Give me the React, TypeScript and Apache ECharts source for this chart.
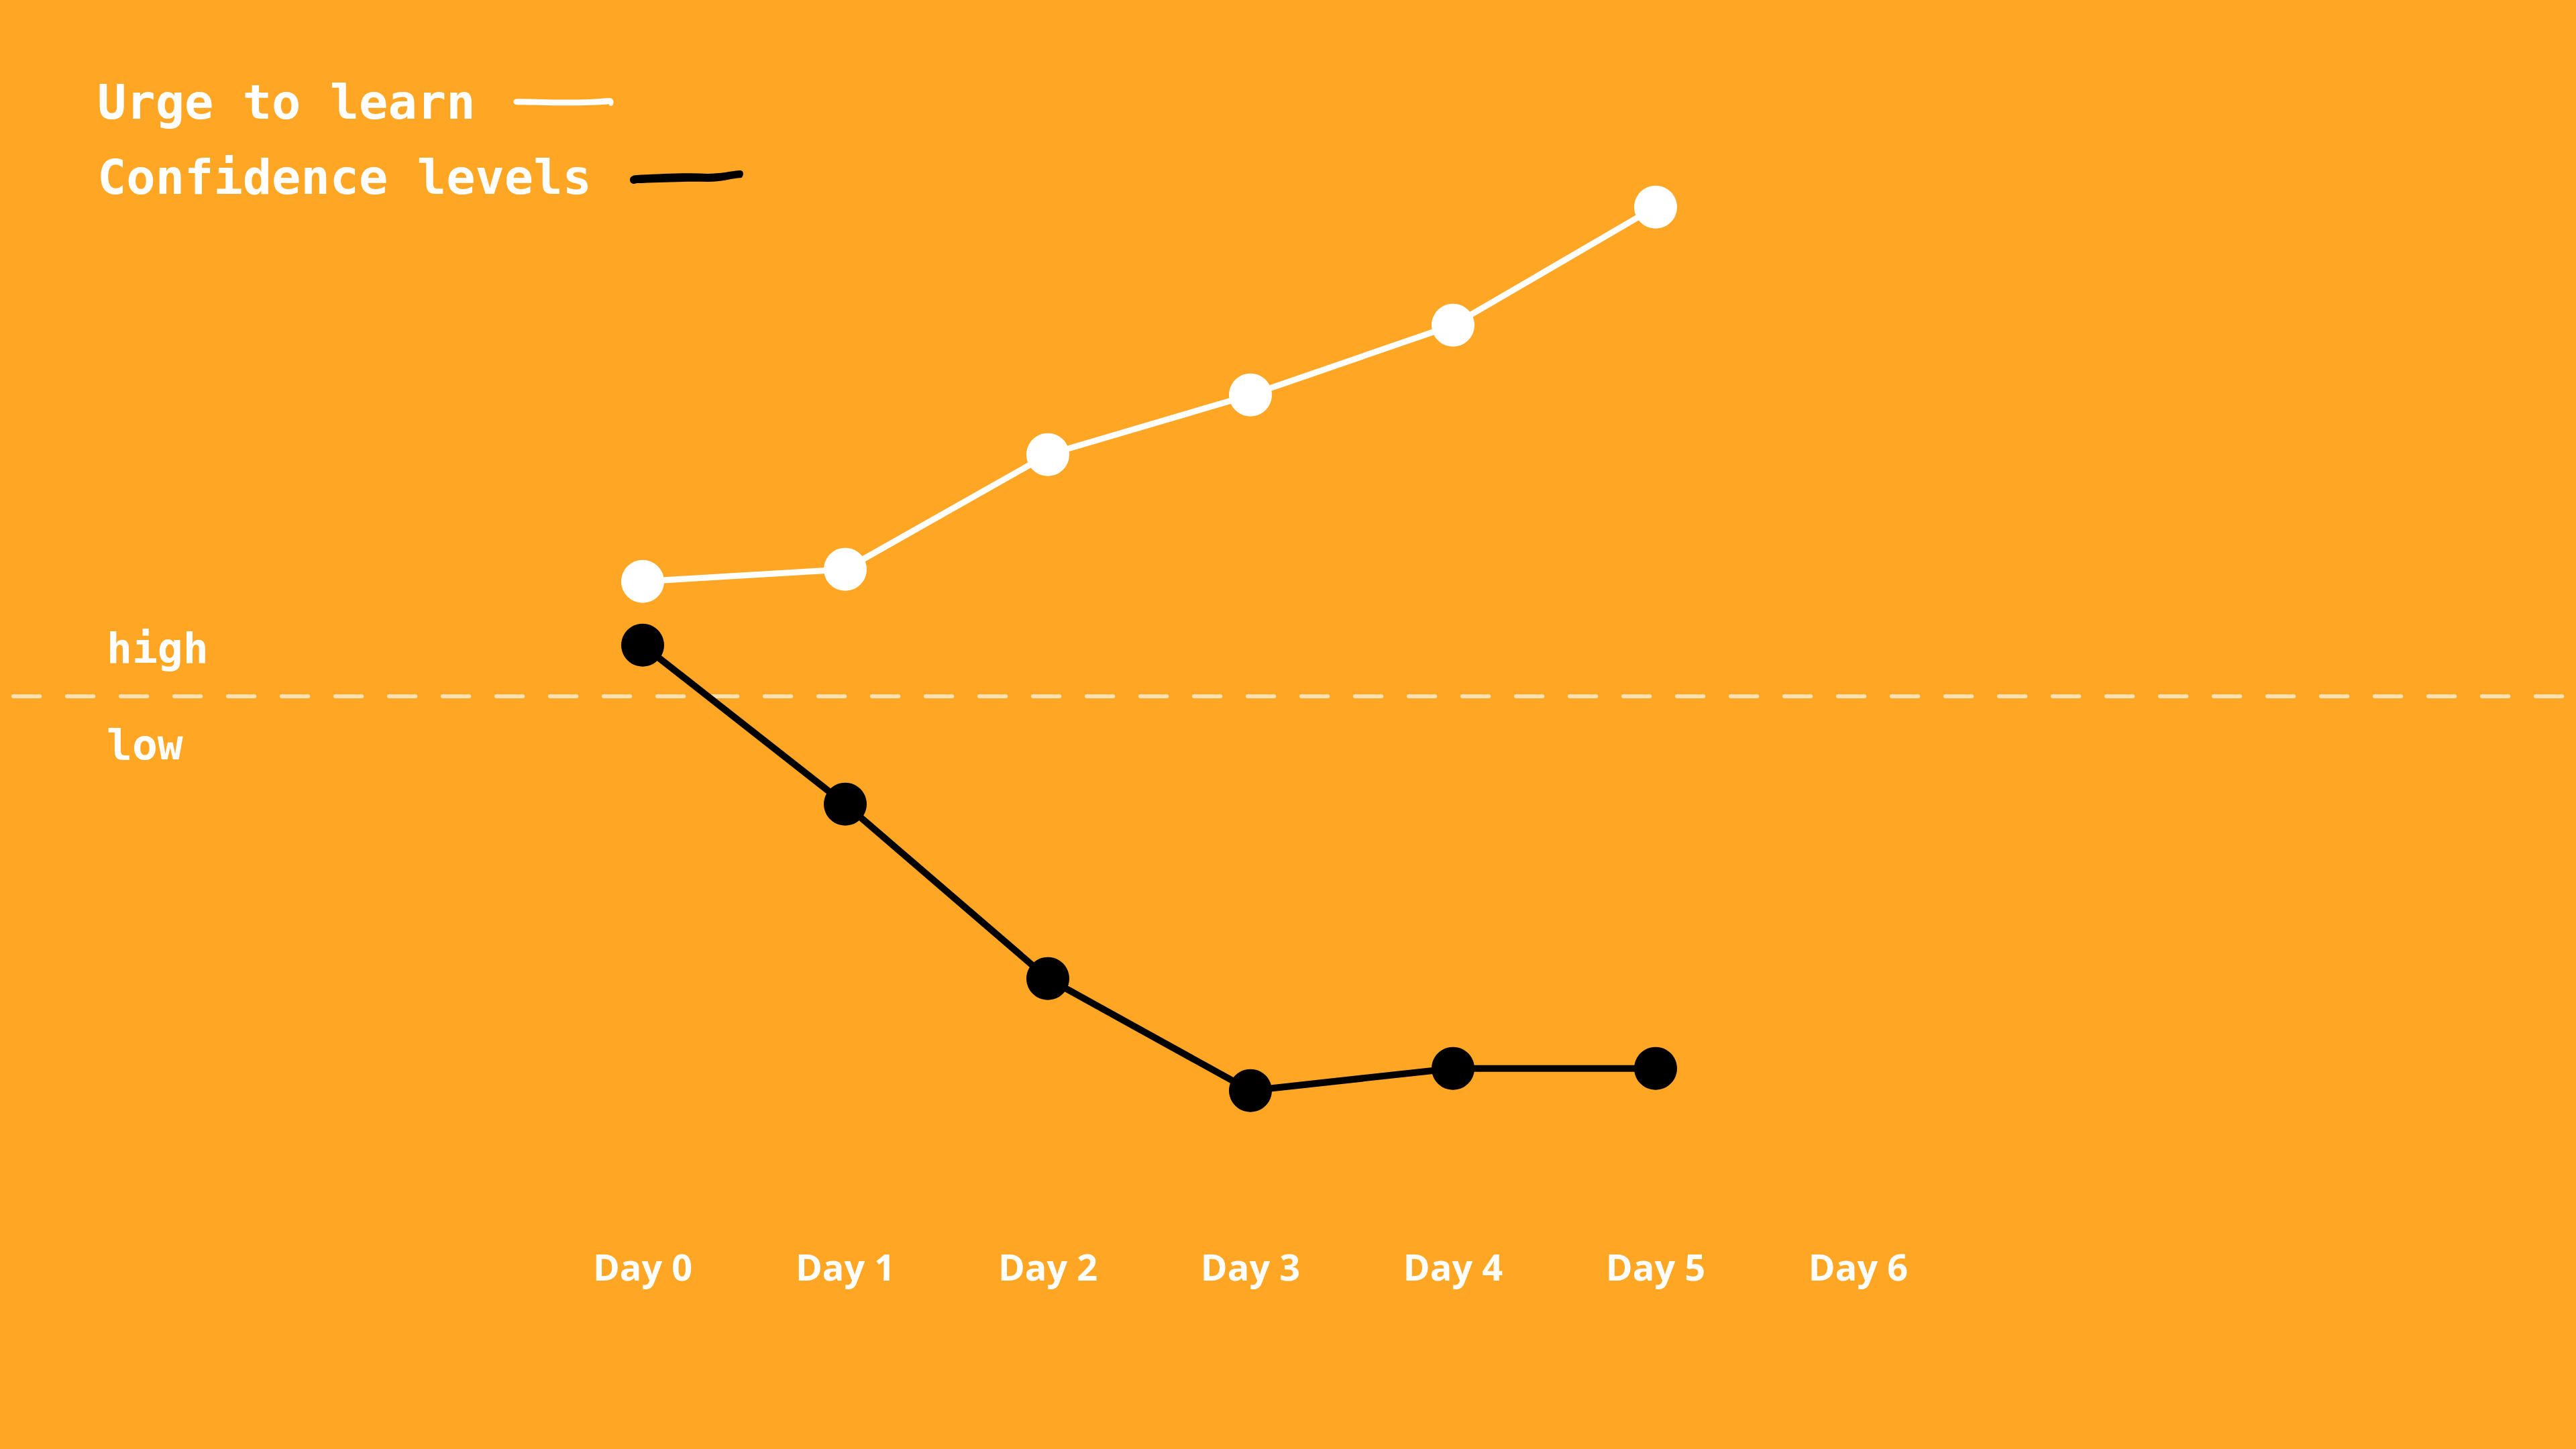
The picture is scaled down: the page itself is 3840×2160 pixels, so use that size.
import React, { useEffect, useRef } from "react";
import * as echarts from "echarts";

// Day ticks along the bottom
const days = ["Day 0", "Day 1", "Day 2", "Day 3", "Day 4", "Day 5", "Day 6"];
// Levels relative to the high/low threshold (0 = dashed line)
const urgeToLearn = [1.71, 1.89, 3.6, 4.49, 5.53, 7.29];
const confidenceLevels = [0.76, -1.61, -4.21, -5.88, -5.55, -5.55];
const seriesNames = ["Urge to learn", "Confidence levels"];
const levelLabels = ["high", "low"];

const ORANGE = "#FFA724";
const MONO = '"DejaVu Sans Mono", monospace';

// Hand-drawn strokes used as legend markers
const whiteStroke =
  "path://M0 7C0 3 4 2.5 8 2.5C40 3 90 6 138 1.5L143 1.5C148 2 149 6 148 10C147 14 142 14 142 11L142 10.5C100 14 40 12 8 11.5C3 11.5 0 10 0 7Z";
const blackStroke =
  "path://M0 16C0 12 4 9 10 9C40 8 80 5 115 7C135 7 150 3 163 2C168 2 169 9 165 13C150 14 135 19 115 19C80 18 40 20 10 21C4 24 0 20 0 16Z";

const legendText = (padBottom: number) => ({
  color: "#ffffff",
  fontFamily: MONO,
  fontWeight: "bold",
  fontSize: 72,
  lineHeight: 80,
  padding: [0, 52, padBottom, 0],
});

export default function App() {
  const ref = useRef<HTMLDivElement>(null);

  useEffect(() => {
    if (!ref.current) return;
    const chart = echarts.init(ref.current, null, { renderer: "svg" });

    chart.setOption({
      animation: false,
      backgroundColor: ORANGE,
      grid: { left: 20, right: 20, top: 237.7, bottom: 322.3, containLabel: false },
      legend: [
        {
          data: [{ name: seriesNames[0], icon: whiteStroke }],
          left: 145,
          top: 107,
          align: "right",
          padding: 0,
          itemWidth: 149,
          itemHeight: 13,
          selectedMode: false,
          itemStyle: { borderWidth: 0 },
          textStyle: legendText(10),
        },
        {
          data: [{ name: seriesNames[1], icon: blackStroke }],
          left: 145,
          top: 217,
          align: "right",
          padding: 0,
          itemWidth: 169,
          itemHeight: 22,
          selectedMode: false,
          itemStyle: { borderWidth: 0 },
          textStyle: legendText(14),
        },
      ],
      xAxis: {
        type: "value",
        min: -3.106,
        max: 9.477,
        axisLine: { show: false },
        axisTick: { show: false },
        splitLine: { show: false },
        axisLabel: {
          customValues: days.map((_, i) => i),
          formatter: (v: number) => days[v] ?? "",
          color: "#ffffff",
          fontFamily: '"Open Sans", sans-serif',
          fontWeight: "bold",
          fontSize: 54,
          margin: 23,
        },
      },
      yAxis: {
        type: "value",
        min: -8,
        max: 8,
        show: false,
      },
      graphic: [
        {
          type: "text",
          left: 159,
          top: 972 - 37,
          silent: true,
          style: {
            text: levelLabels[0],
            fill: "#ffffff",
            font: `bold 63px ${MONO}`,
          },
        },
        {
          type: "text",
          left: 159,
          top: 1116 - 37,
          silent: true,
          style: {
            text: levelLabels[1],
            fill: "#ffffff",
            font: `bold 63px ${MONO}`,
          },
        },
      ],
      series: [
        {
          name: seriesNames[0],
          type: "line",
          data: urgeToLearn.map((v, i) => [i, v]),
          symbol: "circle",
          symbolSize: 64,
          silent: true,
          itemStyle: { color: "#ffffff" },
          lineStyle: { color: "#ffffff", width: 9 },
          emphasis: { disabled: true },
          markLine: {
            silent: true,
            z: 1,
            symbol: ["none", "none"],
            label: { show: false },
            lineStyle: {
              color: "rgba(255,255,255,0.65)",
              width: 6,
              type: [39.3, 40.7],
              cap: "round",
            },
            emphasis: { disabled: true },
            data: [{ yAxis: 0 }],
          },
        },
        {
          name: seriesNames[1],
          type: "line",
          data: confidenceLevels.map((v, i) => [i, v]),
          symbol: "circle",
          symbolSize: 64,
          silent: true,
          itemStyle: { color: "#000000" },
          lineStyle: { color: "#000000", width: 10 },
          emphasis: { disabled: true },
        },
      ],
    });

    return () => chart.dispose();
  }, []);

  return (
    <div
      ref={ref}
      style={{ position: "fixed", left: 0, top: 0, width: 3840, height: 2160 }}
    />
  );
}
